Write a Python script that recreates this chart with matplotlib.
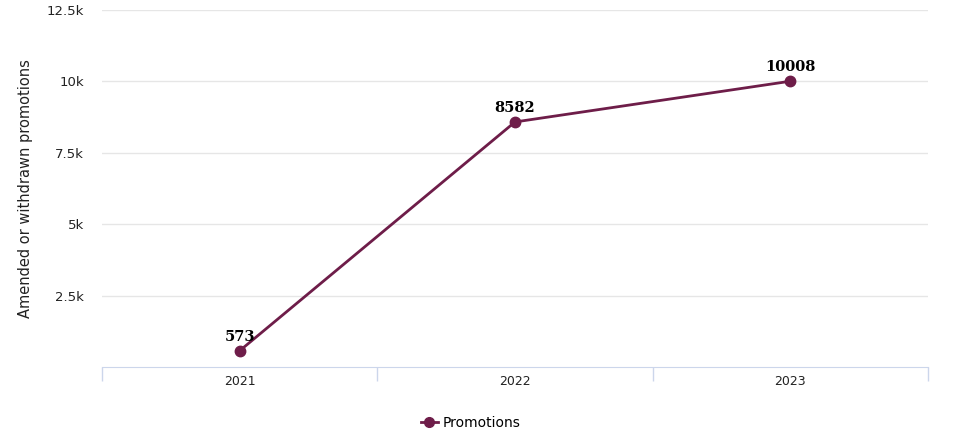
import matplotlib.pyplot as plt
from matplotlib.lines import Line2D

years = ["2021", "2022", "2023"]
promotions = [573, 8582, 10008]
y_ticks = [2500, 5000, 7500, 10000, 12500]
y_tick_labels = ["2.5k", "5k", "7.5k", "10k", "12.5k"]

line_color = "#6e1d49"
axis_color = "#ccd6eb"
grid_color = "#e6e6e6"
text_color = "#222222"

fig = plt.figure(figsize=(9.65, 4.36), dpi=100)
ax = fig.add_axes([0.1057, 0.158, 0.856, 0.819])

x = list(range(len(years)))
ax.plot(x, promotions, color=line_color, linewidth=2, marker="o", markersize=7.5, zorder=3)
for xi, val in zip(x, promotions):
    ax.annotate(str(val), (xi, val), xytext=(0, 5), textcoords="offset points",
                ha="center", va="bottom", fontsize=10.5, fontweight="bold",
                family="DejaVu Serif", color="black")

ax.set_xlim(-0.5, len(years) - 0.5)
ax.set_ylim(0, 12500)

# band boundaries as major ticks, year labels as minor ticks
ax.set_xticks([i - 0.5 for i in range(len(years) + 1)])
ax.set_xticklabels([])
ax.set_xticks(x, minor=True)
ax.set_xticklabels(years, minor=True)
ax.tick_params(axis="x", which="major", length=10, color=axis_color, width=1)
ax.tick_params(axis="x", which="minor", length=0, labelsize=9, pad=6, labelcolor=text_color)

ax.set_yticks(y_ticks)
ax.set_yticklabels(y_tick_labels)
ax.tick_params(axis="y", length=0, labelsize=9.5, pad=13, labelcolor=text_color)
ax.yaxis.grid(True, color=grid_color, linewidth=1)
ax.set_axisbelow(True)

for side in ["left", "right", "top"]:
    ax.spines[side].set_visible(False)
ax.spines["bottom"].set_color(axis_color)

ax.set_ylabel("Amended or withdrawn promotions", fontsize=10.5, color=text_color, labelpad=10)

handle = Line2D([], [], color=line_color, linewidth=2, marker="o", markersize=7)
fig.legend([handle], ["Promotions"], loc="center", bbox_to_anchor=(0.488, 0.03),
           frameon=False, fontsize=10, handlelength=1.2, handletextpad=0.4)

fig.savefig("out.png", dpi=100)
